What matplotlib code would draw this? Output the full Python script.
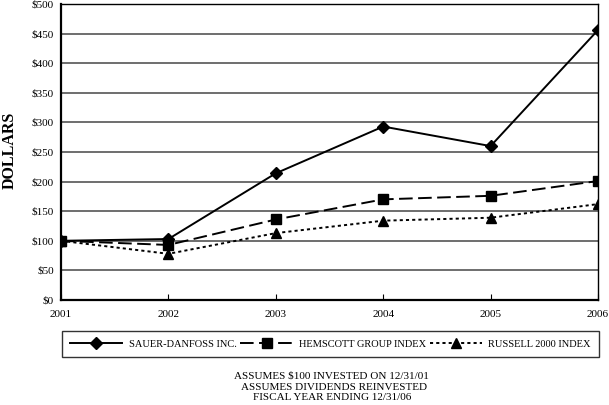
import matplotlib
matplotlib.use("Agg")
import matplotlib.pyplot as plt
from matplotlib.ticker import FuncFormatter

plt.rcParams['font.family'] = ['Liberation Serif', 'DejaVu Serif']

# Data
years = [2001, 2002, 2003, 2004, 2005, 2006]
sauer = [100, 103, 214, 293, 260, 456]
hemscott = [100, 93, 136, 170, 176, 201]
russell = [100, 78, 113, 134, 139, 162]
y_ticks = [0, 50, 100, 150, 200, 250, 300, 350, 400, 450, 500]
notes = ["ASSUMES $100 INVESTED ON 12/31/01",
         "ASSUMES DIVIDENDS REINVESTED",
         "FISCAL YEAR ENDING 12/31/06"]

fig = plt.figure(figsize=(6.09, 4.05), dpi=100)
ax = fig.add_axes([61 / 609, 105 / 405, 537 / 609, 296 / 405])

ax.plot(years, sauer, color='black', linestyle='-', linewidth=1.4,
        marker='D', markersize=6.5, label='SAUER-DANFOSS INC.')
ax.plot(years, hemscott, color='black', linestyle=(0, (7, 2.8)), linewidth=1.4,
        marker='s', markersize=6.5, label='HEMSCOTT GROUP INDEX')
ax.plot(years, russell, color='black', linestyle=(0, (1.6, 1.6)), linewidth=1.4,
        marker='^', markersize=7, label='RUSSELL 2000 INDEX')

ax.set_xlim(2001, 2006)
ax.set_ylim(0, 500)
ax.set_yticks(y_ticks)
ax.set_xticks(years)
ax.yaxis.set_major_formatter(FuncFormatter(lambda v, p: '$%d' % v))
ax.grid(axis='y', color='#555555', linewidth=1.2)
ax.set_axisbelow(True)
ax.tick_params(axis='x', direction='in', length=4, labelsize=8, pad=7)
ax.tick_params(axis='y', length=0, labelsize=8, pad=5)
for side in ['left', 'bottom']:
    ax.spines[side].set_linewidth(1.6)
for side in ['top', 'right']:
    ax.spines[side].set_linewidth(1.0)

# y axis title placed on the figure so it stays inside the canvas
fig.text(10 / 609, 1 - 150 / 405, 'DOLLARS', rotation=90, ha='center', va='center',
         fontsize=11.5, fontweight='bold')

leg = fig.legend(loc='lower left', bbox_to_anchor=(62 / 609, 1 - 357 / 405, 537 / 609, 29 / 405),
                 ncol=3, mode='expand', fontsize=7.5, handlelength=5.0, frameon=True,
                 fancybox=False, edgecolor='black', borderaxespad=0, columnspacing=0.5,
                 handletextpad=0.6, borderpad=0.8)
leg.get_frame().set_linewidth(1.0)

fig.text(0.545, 1 - 376 / 405, notes[0], ha='center', va='center', fontsize=8)
fig.text(0.548, 1 - 387 / 405, notes[1], ha='center', va='center', fontsize=8)
fig.text(0.545, 1 - 397.5 / 405, notes[2], ha='center', va='center', fontsize=8)

fig.savefig('out.png', dpi=100)
